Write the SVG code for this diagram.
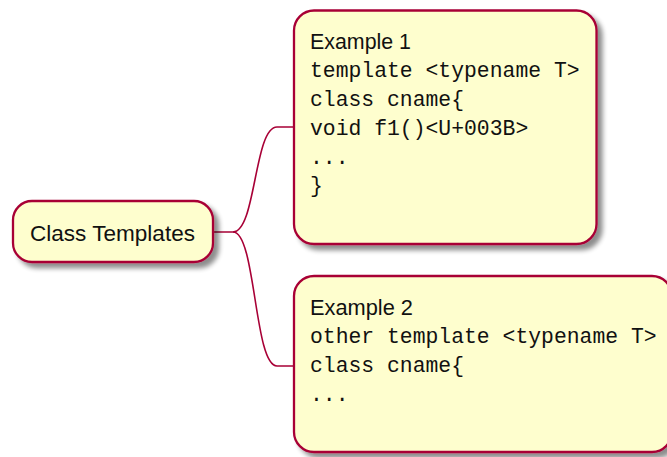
<svg xmlns="http://www.w3.org/2000/svg" width="667" height="457" viewBox="0 0 667 457">
<defs>
<filter id="sh" x="-10%" y="-10%" width="130%" height="130%">
<feGaussianBlur in="SourceAlpha" stdDeviation="2.5"/>
<feOffset dx="5" dy="5" result="b"/>
<feComponentTransfer><feFuncA type="linear" slope="0.45"/></feComponentTransfer>
<feMerge><feMergeNode/><feMergeNode in="SourceGraphic"/></feMerge>
</filter>
<style>
.box{fill:#FEFECE;stroke:#A80036;stroke-width:2.3;filter:url(#sh)}
.con{fill:none;stroke:#A80036;stroke-width:1.6}
.s{font-family:"Liberation Sans",Arial,sans-serif;font-size:21.5px;fill:#111}
.m{font-family:"Courier New","Liberation Mono",monospace;font-size:21.4px;fill:#111}
</style>
</defs>
<rect width="667" height="457" fill="#fff"/>
<g id="connectors">
<path class="con" d="M213,232 L233,232 C256,232 254,127 277,127 L294,127"/>
<path class="con" d="M233,232 C256,232 254,366 277,366 L294,366"/>
</g>
<g id="root">
<rect class="box" x="13" y="201" width="200" height="61" rx="19" ry="19"/>
<text class="s" x="30" y="241" textLength="165" lengthAdjust="spacingAndGlyphs">Class Templates</text>
</g>
<g id="example1">
<rect class="box" x="294" y="10.5" width="302.5" height="233.5" rx="20" ry="20"/>
<text class="s" x="310" y="49" textLength="101" lengthAdjust="spacingAndGlyphs">Example 1</text>
<text class="m" x="310" y="77">template &lt;typename T&gt;</text>
<text class="m" x="310" y="106">class cname{</text>
<text class="m" x="310" y="135">void f1()&lt;U+003B&gt;</text>
<text class="m" x="310" y="164">...</text>
<text class="m" x="310" y="192">}</text>
</g>
<g id="example2">
<rect class="box" x="294" y="276" width="378" height="176" rx="20" ry="20"/>
<text class="s" x="310" y="315" textLength="103" lengthAdjust="spacingAndGlyphs">Example 2</text>
<text class="m" x="310" y="343">other template &lt;typename T&gt;</text>
<text class="m" x="310" y="372">class cname{</text>
<text class="m" x="310" y="401">...</text>
</g>
</svg>
